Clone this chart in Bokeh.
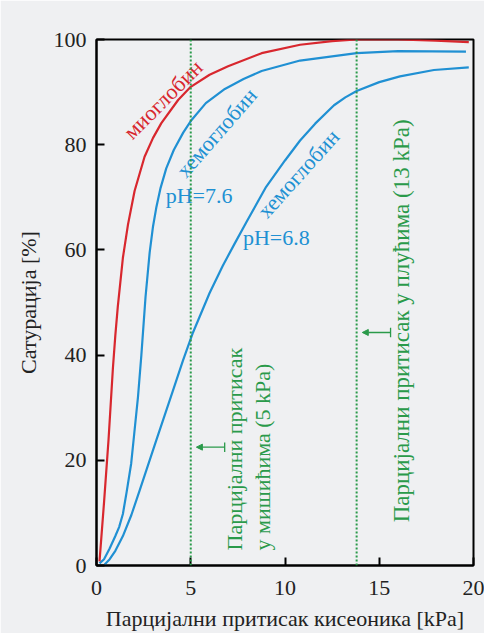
import math
from bokeh.plotting import figure
from bokeh.models import Span, Arrow, NormalHead, Range1d
from bokeh.core.properties import value
from bokeh.embed import file_html
from bokeh.resources import INLINE

# ---- data ----
myo_x = [0.16, 0.4, 0.64, 0.87, 1.0, 1.13, 1.4, 1.67, 2.02, 2.55, 3.0, 3.44, 4.33, 5.0, 6.0, 6.98, 8.76, 10.8, 12.5, 13.8, 16.0, 18.0, 19.75]
myo_y = [0.8, 12.0, 24.0, 37.5, 43.8, 49.2, 58.5, 64.8, 71.2, 77.7, 81.3, 84.1, 88.5, 91.0, 93.3, 94.9, 97.4, 99.0, 99.7, 100.0, 100.0, 99.8, 99.5]

hb76_x = [0.16, 0.4, 0.69, 1.0, 1.2, 1.4, 1.6, 1.84, 2.0, 2.2, 2.38, 2.6, 2.82, 3.0, 3.17, 3.4, 3.7, 4.1, 4.6, 5.0, 5.8, 6.81, 7.8, 8.76, 10.8, 13.8, 16.0, 19.6]
hb76_y = [0.4, 1.2, 3.2, 5.6, 7.3, 9.8, 14.0, 19.4, 25.0, 32.0, 40.0, 51.0, 59.5, 64.5, 68.0, 71.8, 75.5, 79.0, 82.3, 84.5, 87.9, 90.6, 92.5, 94.0, 96.0, 97.4, 97.8, 97.7]

hb68_x = [0.43, 0.7, 1.0, 1.4, 1.85, 2.29, 3.17, 4.06, 4.59, 5.12, 6.0, 6.7, 7.3, 8.0, 9.0, 10.0, 10.8, 11.6, 12.6, 13.2, 13.8, 15.0, 16.1, 17.9, 19.75]
hb68_y = [0.2, 1.2, 2.8, 5.6, 9.6, 14.3, 23.8, 33.3, 39.0, 44.3, 51.8, 57.0, 61.0, 65.6, 72.0, 77.0, 80.8, 84.0, 87.5, 89.0, 90.2, 91.9, 93.0, 94.2, 94.7]

x_ticks = [0, 5, 10, 15, 20]
y_ticks = [0, 20, 40, 60, 80, 100]
ref_lines = [5, 13.8]

x_label = "Парцијални притисак кисеоника [kPa]"
y_label = "Сатурација [%]"

curve_labels = ["миоглобин", "хемоглобин", "хемоглобин"]
curve_label_x = [3.53, 6.37, 10.71]
curve_label_y = [88.6, 82.3, 74.5]
curve_label_deg = [45, 49, 48]
ph_labels = ["pH=7.6", "pH=6.8"]
ph_x = [3.67, 7.77]
ph_y = [70.4, 62.3]

ref_text = [["Парцијални притисак", "у мишићима (5 kPa)"], ["Парцијални притисак у плућима (13 kPa)"]]
ref_text_x = [[7.34, 8.78], [16.17]]
ref_text_y = [2.85, 8.2]

arrow_x_tip = [5.3, 14.1]
arrow_x_tail = [6.8, 15.6]
arrow_y = [22.5, 44.3]

# ---- styling ----
BG = "#eff0f2"
RED = "#d8272e"
BLUE = "#2090d3"
GREEN = "#2a9a4a"
INK = "#222222"
FONT = "Liberation Serif"

p = figure(width=484, height=633, output_backend="svg", toolbar_location=None,
           x_range=Range1d(0, 20), y_range=Range1d(0, 100),
           background_fill_color=BG, border_fill_color=BG,
           min_border_left=96, min_border_right=11, min_border_top=39, min_border_bottom=68)
p.grid.visible = False
p.outline_line_color = "black"
p.outline_line_width = 2
p.outline_line_alpha = 1

for ax in (p.xaxis[0], p.yaxis[0]):
    ax.major_tick_in = 8
    ax.major_tick_out = 0
    ax.minor_tick_line_color = None
    ax.major_tick_line_color = "black"
    ax.major_tick_line_width = 2
    ax.axis_line_color = "black"
    ax.axis_line_width = 2
    ax.major_label_text_font = FONT
    ax.major_label_text_font_size = "22px"
    ax.major_label_text_color = INK
    ax.axis_label_text_font = FONT
    ax.axis_label_text_font_size = "22px"
    ax.axis_label_text_font_style = "normal"
    ax.axis_label_text_color = INK
p.xaxis.major_label_standoff = 15
p.yaxis.major_label_standoff = 10
p.xaxis.ticker = x_ticks
p.yaxis.ticker = y_ticks
p.xaxis.axis_label = x_label
p.yaxis.axis_label = y_label
p.xaxis.axis_label_standoff = 8
p.yaxis.axis_label_standoff = 10

for loc in ref_lines:
    p.add_layout(Span(location=loc, dimension="height", line_color=GREEN,
                      line_width=2, line_dash="2 2"))

p.line(hb68_x, hb68_y, line_color=BLUE, line_width=2.2, line_join="round")
p.line(hb76_x, hb76_y, line_color=BLUE, line_width=2.2, line_join="round")
p.line(myo_x, myo_y, line_color=RED, line_width=2.2, line_join="round")

colors = [RED, BLUE, BLUE]
for t, x, y, d, c in zip(curve_labels, curve_label_x, curve_label_y, curve_label_deg, colors):
    p.text(x=[x], y=[y], text=[t], angle=math.radians(d), text_color=c,
           text_font=value(FONT), text_font_size="22px",
           text_align="center", text_baseline="middle")
p.text(x=ph_x, y=ph_y, text=ph_labels, text_color=BLUE, text_font=value(FONT),
       text_font_size="22px", text_align="left", text_baseline="middle")

sizes = ["22px", "23px"]
for lines, xs, y, s in zip(ref_text, ref_text_x, ref_text_y, sizes):
    for t, x in zip(lines, xs):
        p.text(x=[x], y=[y], text=[t], angle=math.pi / 2, text_color=GREEN,
               text_font=value(FONT), text_font_size=s,
               text_align="left", text_baseline="middle")

for xt, xe, y in zip(arrow_x_tip, arrow_x_tail, arrow_y):
    p.add_layout(Arrow(x_start=xe, y_start=y, x_end=xt, y_end=y,
                       line_color=GREEN, line_width=1.3,
                       end=NormalHead(size=6, fill_color=GREEN, line_color=GREEN)))
    p.segment(x0=[xe], y0=[y - 0.9], x1=[xe], y1=[y + 0.9], line_color=GREEN, line_width=1.3)

open("out.html", "w").write(file_html(p, INLINE))
